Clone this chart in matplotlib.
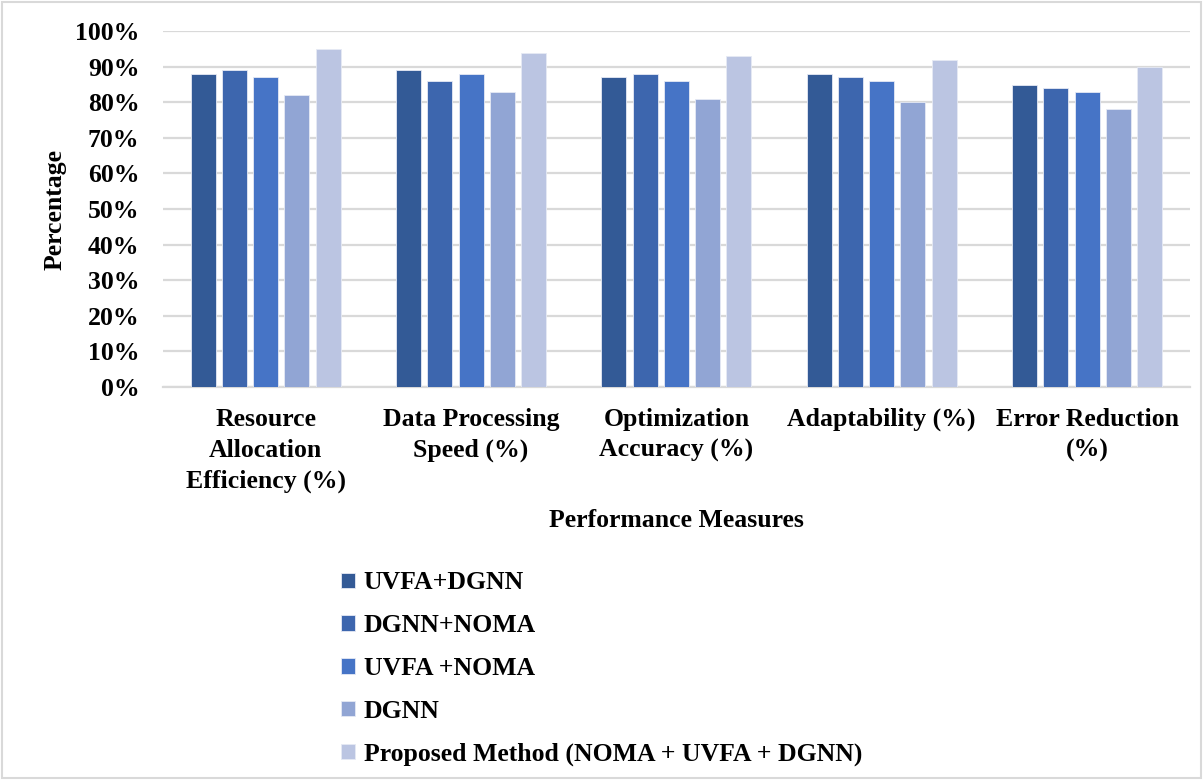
import matplotlib
matplotlib.use("Agg")
import matplotlib.pyplot as plt
import numpy as np
from matplotlib.patches import Rectangle

categories = ["Resource\nAllocation\nEfficiency (%)", "Data Processing\nSpeed (%)",
              "Optimization\nAccuracy (%)", "Adaptability (%)", "Error Reduction\n(%)"]
series_names = ["UVFA+DGNN", "DGNN+NOMA", "UVFA +NOMA", "DGNN",
                "Proposed Method (NOMA + UVFA + DGNN)"]
uvfa_dgnn = [88, 89, 87, 88, 85]
dgnn_noma = [89, 86, 88, 87, 84]
uvfa_noma = [87, 88, 86, 86, 83]
dgnn = [82, 83, 81, 80, 78]
proposed = [95, 94, 93, 92, 90]
colors = ["#335A96", "#3D66AE", "#4674C6", "#91A5D4", "#BBC5E2"]
yticks = [0, 10, 20, 30, 40, 50, 60, 70, 80, 90, 100]

series = [uvfa_dgnn, dgnn_noma, uvfa_noma, dgnn, proposed]

plt.rcParams['font.family'] = ['Liberation Serif', 'DejaVu Serif']
plt.rcParams['font.weight'] = 'bold'
FS = 18.5

fig = plt.figure(figsize=(12.03, 7.80), dpi=100)
ax = fig.add_axes([0.1355, 0.504, 0.8535, 0.456])

x = np.arange(len(categories))
w = 0.122
step = 0.152
for i, (vals, c, name) in enumerate(zip(series, colors, series_names)):
    ax.bar(x + (i - 2) * step, vals, width=w, color=c, label=name,
           edgecolor="#E6EAF4", linewidth=0.6, zorder=3)

ax.set_xlim(-0.5, len(categories) - 0.5)
ax.set_ylim(0, 100)
ax.set_yticks(yticks)
ax.set_yticklabels([f"{t}%" for t in yticks], fontsize=FS, fontweight='bold')
ax.set_xticks(x)
ax.set_xticklabels(categories, fontsize=FS, fontweight='bold', linespacing=1.45)
ax.tick_params(axis='both', length=0)
ax.tick_params(axis='x', pad=15)
ax.tick_params(axis='y', pad=17)
ax.yaxis.grid(True, color="#D9D9D9", linewidth=1.6, zorder=0)
ax.set_axisbelow(True)
for s in ['top', 'right', 'left']:
    ax.spines[s].set_visible(False)
ax.spines['bottom'].set_color("#D9D9D9")
ax.spines['bottom'].set_linewidth(1.6)

ax.set_ylabel("Percentage", fontsize=FS, fontweight='bold', labelpad=6)
ax.set_xlabel("Performance Measures", fontsize=FS, fontweight='bold', labelpad=11)

handles, labels = ax.get_legend_handles_labels()
leg = fig.legend(handles, labels, loc='upper left', bbox_to_anchor=(0.264, 0.297),
                 frameon=False, fontsize=FS, handlelength=0.55, handleheight=0.55,
                 handletextpad=0.35, labelspacing=0.77)

fig.patches.append(Rectangle((0.002, 0.002), 0.996, 0.996, transform=fig.transFigure,
                             fill=False, edgecolor="#D9D9D9", linewidth=1.5))

fig.savefig("out.png", dpi=100)
